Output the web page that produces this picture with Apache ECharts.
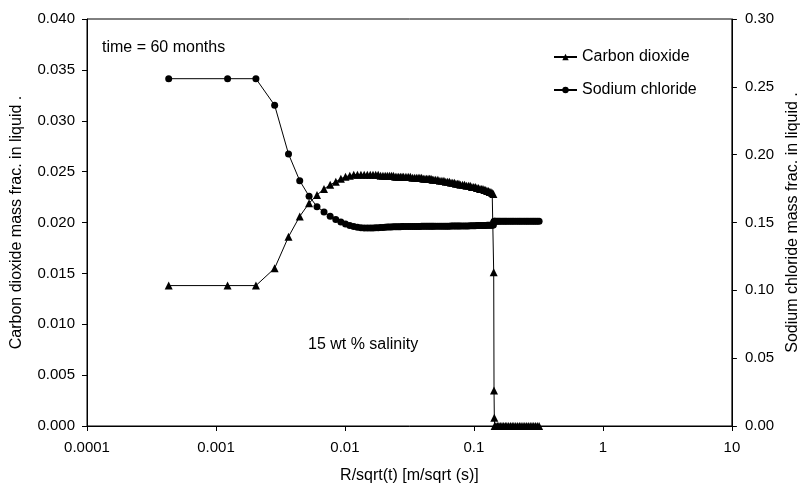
<!DOCTYPE html>
<html>
<head>
<meta charset="utf-8">
<script src="https://cdn.jsdelivr.net/npm/echarts@6/dist/echarts.min.js"></script>
<style>
  html, body { margin: 0; padding: 0; background: #fff; }
  #main { width: 809px; height: 489px; }
</style>
</head>
<body>
<div id="main"></div>
<script>
// R/sqrt(t) positions of the grid cells
const xPoints = [
  0.00043, 0.00123, 0.00204, 0.00285, 0.00365, 0.00446, 0.00527, 0.00607, 0.00688, 0.00768,
  0.00849, 0.0093, 0.0101, 0.0109, 0.0117, 0.0125, 0.0133, 0.0141, 0.0149, 0.0157,
  0.0165, 0.0173, 0.0181, 0.0189, 0.0197,
  0.0205, 0.0213, 0.0221, 0.0229, 0.0237, 0.0245, 0.0253, 0.0261, 0.0269, 0.0277, 0.0285,
  0.0297, 0.0309, 0.0321, 0.0333, 0.0345, 0.0357, 0.0369, 0.0381, 0.0393, 0.0405,
  0.0417, 0.0429, 0.0441, 0.0453, 0.0465, 0.0477, 0.0489,
  0.0505, 0.0525, 0.0545, 0.0565, 0.0585, 0.0605, 0.0625, 0.0645, 0.0665, 0.0685,
  0.0705, 0.0725, 0.0745, 0.0765, 0.0785,
  0.0815, 0.0845, 0.0875, 0.0905, 0.0935, 0.0965, 0.0995, 0.1025, 0.1055, 0.1085,
  0.1115, 0.1145, 0.1175, 0.1205, 0.1235, 0.1265, 0.1295, 0.1325, 0.1355, 0.1385, 0.1415,
  0.1423, 0.1431, 0.1439, 0.1447,
  0.148, 0.152, 0.156, 0.160, 0.165, 0.170, 0.175, 0.180, 0.186, 0.192,
  0.198, 0.204, 0.211, 0.218, 0.225, 0.232, 0.240, 0.248, 0.256, 0.264,
  0.273, 0.282, 0.291, 0.300, 0.310, 0.320
];

// carbon dioxide mass fraction (left axis)
const co2 = [
  0.0138, 0.0138, 0.0138, 0.0155, 0.0186, 0.0206, 0.0219, 0.0227, 0.0233, 0.0237,
  0.0240, 0.0243, 0.0245, 0.0246, 0.0247, 0.0247, 0.0247, 0.0247, 0.0247, 0.0247,
  0.0247, 0.0247, 0.0247, 0.0246, 0.0246,
  0.0246, 0.0246, 0.0246, 0.0246, 0.0246, 0.0245, 0.0245, 0.0245, 0.0245, 0.0245, 0.0245,
  0.0245, 0.0245, 0.0245, 0.0244, 0.0244, 0.0244, 0.0244, 0.0244, 0.0244, 0.0243,
  0.0243, 0.0243, 0.0243, 0.0243, 0.0243, 0.0242, 0.0242,
  0.0242, 0.0242, 0.0241, 0.0241, 0.0241, 0.0240, 0.0240, 0.0240, 0.0239, 0.0239,
  0.0239, 0.0238, 0.0238, 0.0238, 0.0237,
  0.0237, 0.0237, 0.0236, 0.0236, 0.0236, 0.0235, 0.0235, 0.0235, 0.0234, 0.0234,
  0.0233, 0.0233, 0.0233, 0.0232, 0.0232, 0.0231, 0.0231, 0.0230, 0.0230, 0.0229, 0.0228,
  0.0151, 0.0035, 0.0008, 0.0,
  0, 0, 0, 0, 0, 0, 0, 0, 0, 0,
  0, 0, 0, 0, 0, 0, 0, 0, 0, 0,
  0, 0, 0, 0, 0, 0
];

// sodium chloride mass fraction (right axis)
const nacl = [
  0.256, 0.256, 0.256, 0.2364, 0.2005, 0.1808, 0.1694, 0.1617, 0.1578, 0.1546,
  0.1522, 0.1503, 0.1489, 0.1478, 0.1470, 0.1465, 0.1462, 0.1460, 0.1459, 0.1459,
  0.1460, 0.1461, 0.1462, 0.1463, 0.1464,
  0.1465, 0.1466, 0.1467, 0.1467, 0.1468, 0.1468, 0.1469, 0.1469, 0.1469, 0.1470, 0.1470,
  0.1470, 0.1470, 0.1471, 0.1471, 0.1471, 0.1471, 0.1471, 0.1471, 0.1472, 0.1472,
  0.1472, 0.1472, 0.1472, 0.1472, 0.1472, 0.1472, 0.1472,
  0.1472, 0.1472, 0.1472, 0.1473, 0.1473, 0.1473, 0.1473, 0.1473, 0.1474, 0.1474,
  0.1474, 0.1474, 0.1474, 0.1474, 0.1474,
  0.1475, 0.1475, 0.1475, 0.1475, 0.1476, 0.1476, 0.1476, 0.1476, 0.1477, 0.1477,
  0.1477, 0.1477, 0.1478, 0.1478, 0.1478, 0.1479, 0.1479, 0.1479, 0.1480, 0.1480, 0.1481,
  0.1500, 0.1508, 0.1510, 0.1510,
  0.1510, 0.1510, 0.1510, 0.1510, 0.1510, 0.1510, 0.1510, 0.1510, 0.1510, 0.1510,
  0.1510, 0.1510, 0.1510, 0.1510, 0.1510, 0.1510, 0.1510, 0.1510, 0.1510, 0.1510,
  0.1510, 0.1510, 0.1510, 0.1510, 0.1510, 0.1510
];

const seriesNames = ['Carbon dioxide', 'Sodium chloride'];

const font = 'Liberation Sans, Arial, sans-serif';
const axisLine = { show: true, lineStyle: { color: '#000', width: 1 } };
const axisTick = { show: true, length: 5, lineStyle: { color: '#000' } };

const chart = echarts.init(document.getElementById('main'));

const option = {
  animation: false,
  backgroundColor: '#fff',
  textStyle: { fontFamily: font, color: '#000' },
  grid: {
    left: 87, right: 65, top: 19, bottom: 58,
    show: true, borderColor: '#000', borderWidth: 1
  },
  legend: {
    orient: 'vertical',
    left: 548,
    top: 44,
    itemWidth: 23,
    itemHeight: 8,
    itemGap: 17,
    data: seriesNames,
    textStyle: { fontFamily: font, fontSize: 16, color: '#000' }
  },
  xAxis: {
    type: 'log',
    logBase: 10,
    min: 0.0001,
    max: 10,
    name: 'R/sqrt(t) [m/sqrt (s)]',
    nameLocation: 'middle',
    nameGap: 42,
    nameTextStyle: { fontFamily: font, fontSize: 16, color: '#000' },
    axisLine: axisLine,
    axisTick: axisTick,
    minorTick: { show: false },
    splitLine: { show: false },
    axisLabel: {
      margin: 14,
      fontFamily: font,
      fontSize: 15,
      color: '#000',
      formatter: v => String(Number(v.toPrecision(1)))
    }
  },
  yAxis: [
    {
      type: 'value',
      min: 0,
      max: 0.04,
      interval: 0.005,
      name: 'Carbon dioxide mass frac. in liquid .',
      nameLocation: 'middle',
      nameGap: 62,
      nameTextStyle: { fontFamily: font, fontSize: 16, color: '#000' },
      axisLine: axisLine,
      axisTick: axisTick,
      splitLine: { show: false },
      axisLabel: {
        margin: 12,
        fontFamily: font,
        fontSize: 15,
        color: '#000',
        formatter: v => v.toFixed(3)
      }
    },
    {
      type: 'value',
      position: 'right',
      min: 0,
      max: 0.3,
      interval: 0.05,
      name: 'Sodium chloride mass frac. in liquid .',
      nameLocation: 'middle',
      nameGap: 45,
      nameTextStyle: { fontFamily: font, fontSize: 16, color: '#000' },
      axisLine: axisLine,
      axisTick: axisTick,
      splitLine: { show: false },
      axisLabel: {
        margin: 13,
        fontFamily: font,
        fontSize: 15,
        color: '#000',
        formatter: v => v.toFixed(2)
      }
    }
  ],
  graphic: [
    {
      type: 'text',
      left: 102,
      top: 40,
      style: { text: 'time = 60 months', font: '16px ' + font, fill: '#000' }
    },
    {
      type: 'text',
      left: 308,
      top: 337,
      style: { text: '15 wt % salinity', font: '16px ' + font, fill: '#000' }
    }
  ],
  series: [
    {
      name: seriesNames[0],
      type: 'line',
      yAxisIndex: 0,
      data: xPoints.map((x, i) => [x, co2[i]]),
      symbol: 'triangle',
      symbolSize: 8,
      showAllSymbol: true,
      itemStyle: { color: '#000' },
      lineStyle: { color: '#000', width: 1 }
    },
    {
      name: seriesNames[1],
      type: 'line',
      yAxisIndex: 1,
      data: xPoints.map((x, i) => [x, nacl[i]]),
      symbol: 'circle',
      symbolSize: 7,
      showAllSymbol: true,
      itemStyle: { color: '#000' },
      lineStyle: { color: '#000', width: 1 }
    }
  ]
};

chart.setOption(option);
</script>
</body>
</html>
